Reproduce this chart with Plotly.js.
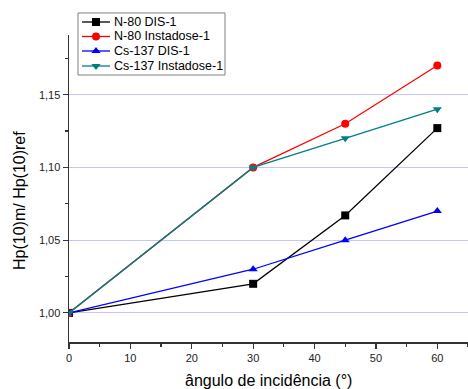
<!DOCTYPE html>
<html><head><meta charset="utf-8">
<script src="https://cdn.plot.ly/plotly-3.0.1.min.js"></script>
<style>body{margin:0;padding:0;background:#fff}#c{width:468px;height:389px}</style>
</head><body><div id="c"></div>
<script>
var angles = [0, 30, 45, 60];
var n80Dis = [1.000, 1.020, 1.067, 1.127];
var n80Insta = [1.000, 1.100, 1.130, 1.170];
var csDis = [1.000, 1.030, 1.050, 1.070];
var csInsta = [1.000, 1.100, 1.120, 1.140];
var names = ['N-80 DIS-1', 'N-80 Instadose-1', 'Cs-137 DIS-1', 'Cs-137 Instadose-1'];
var xTitle = 'ângulo de incidência (°)';
var yTitle = 'Hp(10)m/ Hp(10)ref';
var colors = ['#000000', '#ff0000', '#0000ff', '#008080'];
var symbols = ['square', 'circle', 'triangle-up', 'triangle-down'];
var series = [n80Dis, n80Insta, csDis, csInsta];

var traces = series.map(function(s, i){
  return {x: angles, y: s, name: names[i], type: 'scatter', mode: 'lines+markers',
    showlegend: false,
    line: {color: colors[i], width: 1.3},
    marker: {color: colors[i], symbol: symbols[i], size: 8}};
});

// custom legend drawn in a full-height invisible subplot (x2/y2 range 0..1 = paper)
var legRowY = [0.9357, 0.8933, 0.8509, 0.8070];
var legLineX0 = 0.0326, legLineX1 = 0.1028, legMarkX = 0.0677, legTextX = 0.1078;
var shapes = [{type: 'rect', xref: 'paper', yref: 'paper', x0: 0.0226, x1: 0.391,
  y0: 0.7807, y1: 0.9620, line: {color: '#808080', width: 1}, fillcolor: 'rgba(0,0,0,0)', layer: 'above'}];
var annotations = [];
names.forEach(function(n, i){
  shapes.push({type: 'line', xref: 'paper', yref: 'paper', x0: legLineX0, x1: legLineX1,
    y0: legRowY[i], y1: legRowY[i], line: {color: colors[i], width: 1.3}, layer: 'below'});
  annotations.push({xref: 'paper', yref: 'paper', x: legTextX, y: legRowY[i], text: n,
    showarrow: false, xanchor: 'left', yanchor: 'middle',
    font: {size: 12.5, color: '#000', family: 'Liberation Sans, Arial, sans-serif'}});
  traces.push({x: [legMarkX], y: [legRowY[i]], xaxis: 'x2', yaxis: 'y2', type: 'scatter',
    mode: 'markers', showlegend: false, cliponaxis: false,
    marker: {color: colors[i], symbol: symbols[i], size: 8}});
});
annotations.push({xref: 'paper', yref: 'paper', x: 0.501, y: -0.114, text: xTitle,
  showarrow: false, xanchor: 'center', yanchor: 'middle',
  font: {size: 16, color: '#000', family: 'Liberation Sans, Arial, sans-serif'}});
annotations.push({xref: 'paper', yref: 'paper', x: -0.1228, y: 0.4123, text: yTitle,
  showarrow: false, xanchor: 'center', yanchor: 'middle', textangle: -90,
  font: {size: 16, color: '#000', family: 'Liberation Sans, Arial, sans-serif'}});

var layout = {
  width: 468, height: 389,
  margin: {l: 69, r: 0, t: 0, b: 47},
  separators: ',.',
  paper_bgcolor: '#fff', plot_bgcolor: 'rgba(0,0,0,0)',
  font: {family: 'Liberation Sans, Arial, sans-serif', size: 11, color: '#222'},
  showlegend: false,
  shapes: shapes,
  annotations: annotations,
  xaxis: {range: [0, 65], dtick: 10, tick0: 0, showgrid: false, zeroline: false,
    showline: true, linecolor: '#333', linewidth: 1.5, ticks: 'outside', ticklen: 5,
    tickcolor: '#333', tickwidth: 1.2, anchor: 'y',
    minor: {dtick: 5, ticks: 'outside', ticklen: 3, tickcolor: '#333', showgrid: false}},
  yaxis: {range: [0.98, 1.191], domain: [0, 0.8977], dtick: 0.05, tick0: 1.0, tickformat: '.2f',
    showgrid: true, gridcolor: '#c4c4ff', gridwidth: 1, zeroline: false, anchor: 'x',
    showline: true, linecolor: '#333', linewidth: 1.5, ticks: 'outside', ticklen: 5,
    tickcolor: '#333', tickwidth: 1.2,
    minor: {dtick: 0.025, ticks: 'outside', ticklen: 3, tickcolor: '#333', showgrid: false}},
  xaxis2: {domain: [0, 1], anchor: 'y2', range: [0, 1], visible: false, fixedrange: true},
  yaxis2: {domain: [0, 1], anchor: 'x2', range: [0, 1], visible: false, fixedrange: true}
};
Plotly.newPlot('c', traces, layout, {displayModeBar: false, staticPlot: true});
</script></body></html>
